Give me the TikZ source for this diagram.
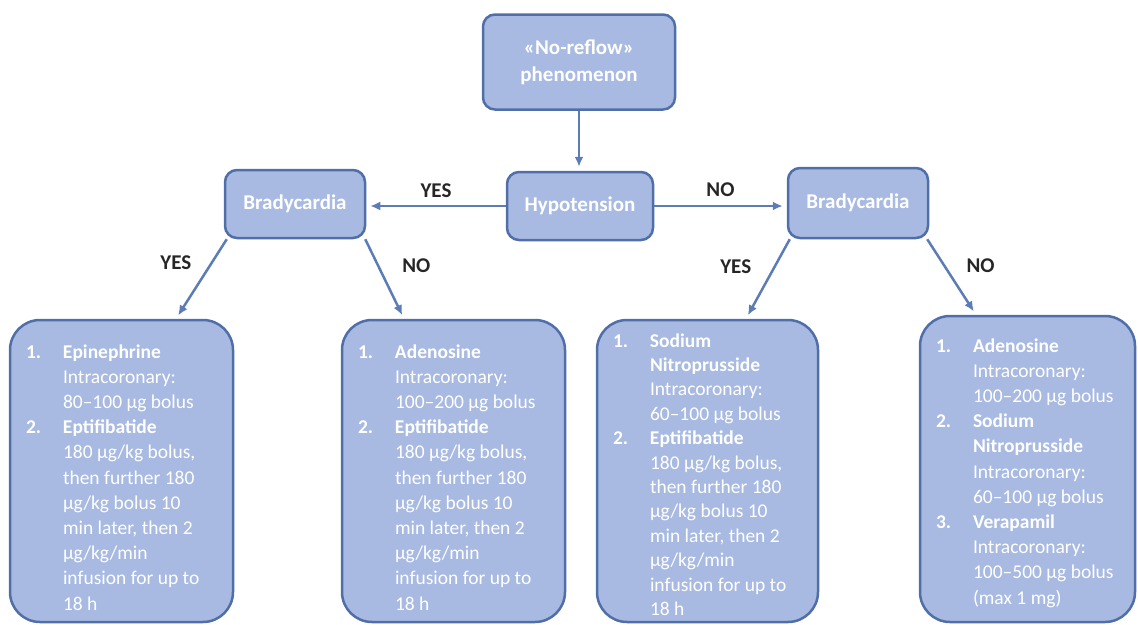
\documentclass[tikz,border=0pt]{standalone}
\usepackage{fontspec}
\setmainfont{Carlito}
\usetikzlibrary{arrows.meta}

\definecolor{boxfill}{RGB}{168,186,225}
\definecolor{boxline}{RGB}{80,110,168}
\definecolor{arrowcol}{RGB}{92,124,182}

% numbered drug name inside a therapy box
\newcommand{\drug}[2]{\leavevmode\llap{\makebox[37pt][l]{\textbf{#1}}}\textbf{#2}}
% text block of a therapy box: width, height, first baseline, lines
\newcommand{\rxtext}[4]{\begin{minipage}[c][#2][t]{#1}\raggedright
  \hyphenpenalty=10000 \leftskip=37pt \noindent\rule{0pt}{#3}#4\end{minipage}}

\begin{document}
\begin{tikzpicture}[x=1pt, y=-1pt,
    decision/.style={draw=boxline, line width=2.5pt, fill=boxfill, rounded corners=12pt,
        text=white, font=\bfseries\fontsize{21}{27}\selectfont, align=center},
    therapy/.style={draw=boxline, line width=2.5pt, fill=boxfill, rounded corners=30pt,
        text=white, font=\fontsize{19.5}{25.2}\selectfont, inner sep=0pt},
    arrow/.style={-{Latex[length=10pt, width=9pt]}, line width=2.5pt, arrowcol, shorten >=4pt},
    answer/.style={font=\bfseries\fontsize{21}{25}\selectfont, text=black!85, inner sep=2pt}
]
\useasboundingbox (0,0) rectangle (1138,624);

% Decision boxes
\node[decision, minimum width=192pt, minimum height=95pt] (noreflow) at (579,62) {«No-reflow»\\phenomenon};
\node[decision, minimum width=146pt, minimum height=68pt] (hypo) at (580,206) {Hypotension};
\node[decision, minimum width=140pt, minimum height=68pt] (bradyL) at (295,204) {Bradycardia};
\node[decision, minimum width=140pt, minimum height=70pt] (bradyR) at (858,203) {Bradycardia};

% Therapy boxes
\node[therapy, minimum width=223pt] (epi) at (121.5,471) {\rxtext{191pt}{302pt}{38pt}{%
\drug{1.}{Epinephrine}\\ Intracoronary:\\ 80–100 µg bolus\\
\drug{2.}{Eptifibatide}\\ 180 µg/kg bolus,\\ then further 180\\ µg/kg bolus 10\\ min later, then 2\\ µg/kg/min\\ infusion for up to\\ 18 h}};
\node[therapy, minimum width=223pt] (adenoL) at (453.5,471) {\rxtext{191pt}{302pt}{38pt}{%
\drug{1.}{Adenosine}\\ Intracoronary:\\ 100–200 µg bolus\\
\drug{2.}{Eptifibatide}\\ 180 µg/kg bolus,\\ then further 180\\ µg/kg bolus 10\\ min later, then 2\\ µg/kg/min\\ infusion for up to\\ 18 h}};
\node[therapy, minimum width=221pt, font=\fontsize{19.5}{24.4}\selectfont] (nitro) at (707.5,471) {\rxtext{189pt}{302pt}{27pt}{%
\drug{1.}{Sodium}\\ \textbf{Nitroprusside}\\ Intracoronary:\\ 60–100 µg bolus\\
\drug{2.}{Eptifibatide}\\ 180 µg/kg bolus,\\ then further 180\\ µg/kg bolus 10\\ min later, then 2\\ µg/kg/min\\ infusion for up to\\ 18 h}};
\node[therapy, minimum width=215pt] (adenoR) at (1027.5,469) {\rxtext{183pt}{306pt}{36pt}{%
\drug{1.}{Adenosine}\\ Intracoronary:\\ 100–200 µg bolus\\
\drug{2.}{Sodium}\\ \textbf{Nitroprusside}\\ Intracoronary:\\ 60–100 µg bolus\\
\drug{3.}{Verapamil}\\ Intracoronary:\\ 100–500 µg bolus\\ (max 1 mg)}};

% Arrows
\draw[arrow] (noreflow.south) -- (noreflow.south |- hypo.north);
\draw[arrow] (hypo.west) -- (hypo.west -| bradyL.east) node[midway, above=5pt, answer] {YES};
\draw[arrow] (hypo.east) -- (hypo.east -| bradyR.west) node[midway, above=6pt, answer] {NO};
\draw[arrow] ([xshift=3pt]bradyL.south west) -- ([xshift=54.5pt]epi.north) node[pos=0.3, left=17pt, answer] {YES};
\draw[arrow] ([xshift=-1pt]bradyL.south east) -- ([xshift=-49.5pt]adenoL.north) node[pos=0.33, right=21pt, answer] {NO};
\draw[arrow] ([xshift=3pt]bradyR.south west) -- ([xshift=38.5pt]nitro.north) node[pos=0.35, left=20pt, answer] {YES};
\draw[arrow] ([xshift=-2pt]bradyR.south east) -- ([xshift=-51.5pt]adenoR.north) node[pos=0.35, right=19pt, answer] {NO};
\end{tikzpicture}
\end{document}
